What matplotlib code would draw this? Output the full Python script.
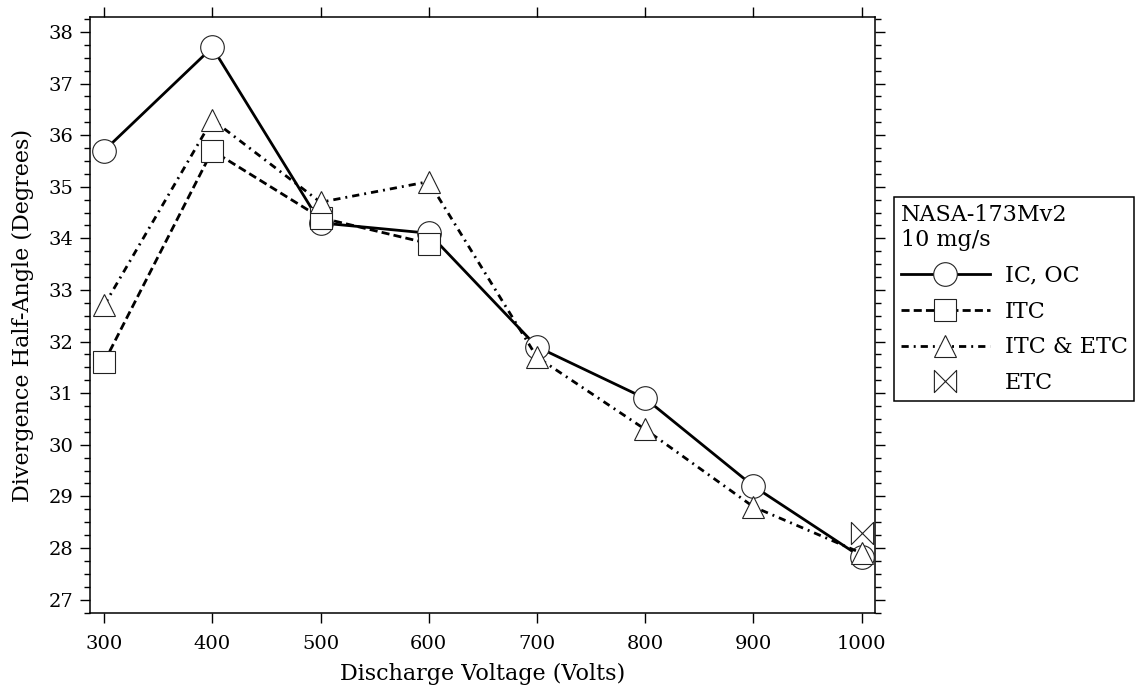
import matplotlib
matplotlib.use("Agg")
import matplotlib.pyplot as plt
from matplotlib.path import Path
from matplotlib.ticker import MultipleLocator

plt.rcParams['font.family'] = ['DejaVu Serif']
plt.rcParams['font.size'] = 16

# Divergence half-angle vs. discharge voltage, NASA-173Mv2 at 10 mg/s
voltage = [300, 400, 500, 600, 700, 800, 900, 1000]
ic_oc = [35.7, 37.7, 34.3, 34.1, 31.9, 30.9, 29.2, 27.82]

itc_voltage = [300, 400, 500, 600]
itc = [31.6, 35.7, 34.4, 33.9]

itc_etc_voltage = [300, 400, 500, 600, 700, 800, 900, 1000]
itc_etc = [32.7, 36.3, 34.7, 35.1, 31.7, 30.3, 28.8, 27.9]

etc_voltage = [1000]
etc = [28.3]

x_ticks = [300, 400, 500, 600, 700, 800, 900, 1000]
y_ticks = [27, 28, 29, 30, 31, 32, 33, 34, 35, 36, 37, 38]

# bow-tie marker: vertical sides joined by crossing diagonals
bowtie = Path([(-1, -1), (-1, 1), (1, -1), (1, 1), (-1, -1)],
              [Path.MOVETO, Path.LINETO, Path.LINETO, Path.LINETO, Path.CLOSEPOLY])

fig = plt.figure(figsize=(11.44, 6.93), dpi=100)
ax = fig.add_axes([0.0787, 0.1154, 0.6862, 0.8601])

edge = '#222222'
common = dict(markerfacecolor='white', markeredgecolor=edge, markeredgewidth=0.8)

ax.plot(voltage, ic_oc, color='black', lw=2.0, linestyle='-',
        marker='o', markersize=17, label='IC, OC', zorder=3, **common)
ax.plot(itc_voltage, itc, color='black', lw=2.0, linestyle=(0, (2.9, 1.5)),
        marker='s', markersize=16, label='ITC', zorder=4, **common)
ax.plot(itc_etc_voltage, itc_etc, color='black', lw=2.0,
        linestyle=(0, (2.6, 1.8, 0.7, 1.8)),
        marker='^', markersize=16, label='ITC & ETC', zorder=5, **common)
ax.plot(etc_voltage, etc, linestyle='none', marker=bowtie, markersize=16,
        label='ETC', zorder=6, **common)

ax.set_xlim(287, 1012.5)
ax.set_ylim(26.74, 38.29)
ax.set_xticks(x_ticks)
ax.set_yticks(y_ticks)
ax.yaxis.set_minor_locator(MultipleLocator(0.25))

ax.tick_params(axis='both', which='major', direction='out', length=7, width=1.0,
               top=True, right=True, pad=5, labelsize=14)
ax.tick_params(axis='y', which='minor', direction='out', length=4, width=1.0,
               left=True, right=True)
ax.tick_params(axis='x', which='major', pad=9)
for sp in ax.spines.values():
    sp.set_linewidth(1.1)

ax.set_xlabel('Discharge Voltage (Volts)', fontsize=16, labelpad=7)
ax.set_ylabel('Divergence Half-Angle (Degrees)', fontsize=16, labelpad=10)

leg = ax.legend(title='NASA-173Mv2\n10 mg/s', loc='upper left',
                bbox_to_anchor=(0.7815, 0.7157), bbox_transform=fig.transFigure,
                frameon=True, fancybox=False, edgecolor='black', framealpha=1,
                fontsize=16, title_fontsize=16, handlelength=4.0,
                handletextpad=0.68, labelspacing=0.62, borderpad=0.3,
                borderaxespad=0)
leg.get_frame().set_linewidth(1.1)
leg._legend_box.align = 'left'

fig.savefig('out.png', dpi=100)
